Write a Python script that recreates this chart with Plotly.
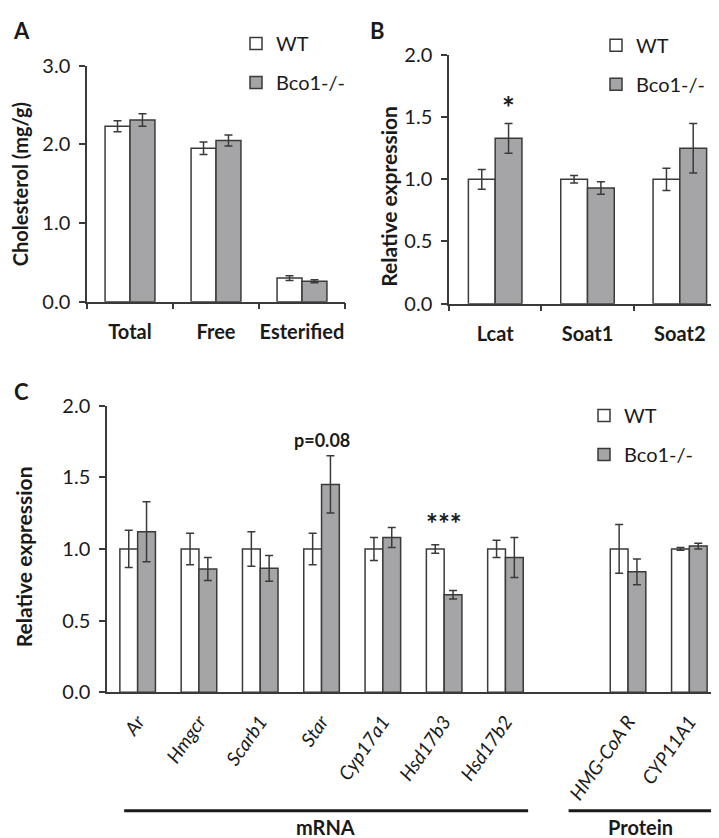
import plotly.graph_objects as go

# panel A - cholesterol content
a_cats = ["Total", "Free", "Esterified"]
a_wt = [2.23, 1.95, 0.30]
a_wt_err = [0.07, 0.08, 0.03]
a_ko = [2.31, 2.05, 0.26]
a_ko_err = [0.08, 0.07, 0.02]

# panel B - esterification genes
b_cats = ["Lcat", "Soat1", "Soat2"]
b_wt = [1.0, 1.0, 1.0]
b_wt_err = [0.08, 0.03, 0.09]
b_ko = [1.33, 0.93, 1.25]
b_ko_err = [0.12, 0.05, 0.20]

# panel C - steroidogenic genes / proteins
c_labels = ["Ar", "Hmgcr", "Scarb1", "Star", "Cyp17a1", "Hsd17b3", "Hsd17b2",
            "HMG-CoA R", "CYP11A1"]
c_group = ["mRNA"] * 7 + ["Protein"] * 2
c_wt = [1.0, 1.0, 1.0, 1.0, 1.0, 1.0, 1.0, 1.0, 1.0]
c_wt_err = [0.13, 0.11, 0.12, 0.11, 0.08, 0.03, 0.06, 0.17, 0.01]
c_ko = [1.12, 0.86, 0.865, 1.45, 1.08, 0.68, 0.94, 0.84, 1.02]
c_ko_err = [0.21, 0.08, 0.09, 0.20, 0.07, 0.03, 0.14, 0.09, 0.02]

W, H = 719, 838
FONT = "Lato"
INK = "#1a1a1a"
LINE = "#3a3a3a"
GREY = "#a5a5a8"

# leave an empty slot between the mRNA and protein groups
c_x = [i + (1 if g == "Protein" else 0) for i, g in enumerate(c_group)]


def px(x0, x1):
    return [x0 / W, x1 / W]


def py(top, bottom):
    return [1 - bottom / H, 1 - top / H]


fig = go.Figure()

err_style = dict(type="data", visible=True, color=LINE, thickness=1.5, width=4)
panels = [
    ("x", "y", "legend", a_cats, a_wt, a_wt_err, a_ko, a_ko_err),
    ("x2", "y2", "legend2", b_cats, b_wt, b_wt_err, b_ko, b_ko_err),
    ("x3", "y3", "legend3", c_x, c_wt, c_wt_err, c_ko, c_ko_err),
]
for xa, ya, lg, xs, wt, wte, ko, koe in panels:
    fig.add_trace(go.Bar(
        x=xs, y=wt, name="WT", xaxis=xa, yaxis=ya, legend=lg, legendgroup=lg + "wt",
        marker=dict(color="white", line=dict(color=LINE, width=1.5)),
        error_y=dict(array=wte, **err_style)))
    fig.add_trace(go.Bar(
        x=xs, y=ko, name="Bco1-/-", xaxis=xa, yaxis=ya, legend=lg, legendgroup=lg + "ko",
        marker=dict(color=GREY, line=dict(color=LINE, width=1.5)),
        error_y=dict(array=koe, **err_style)))

yax = dict(showline=True, linecolor=LINE, linewidth=1.5, ticks="outside", ticklen=6,
           tickwidth=1.5, tickcolor=LINE, showgrid=False, zeroline=False,
           tickformat=".1f", tickfont=dict(family=FONT, size=20, color=INK),
           ticklabelstandoff=5)
xcat = dict(showline=True, linecolor=LINE, linewidth=1.5, ticks="outside", ticklen=6,
            tickwidth=1.5, tickcolor=LINE, tickson="boundaries", showgrid=False,
            tickangle=0, tickfont=dict(family=FONT, size=20, color=INK, weight="bold"),
            ticklabelstandoff=12)

fig.update_layout(
    width=W, height=H, margin=dict(l=0, r=0, t=0, b=0),
    paper_bgcolor="white", plot_bgcolor="white",
    barmode="group", bargap=0.42, bargroupgap=0,
    font=dict(family=FONT, color=INK),
    xaxis=dict(domain=px(79, 337), anchor="y", **xcat),
    yaxis=dict(domain=py(46, 289), anchor="x", range=[0, 3], dtick=1, **yax),
    xaxis2=dict(domain=px(441, 718), anchor="y2", **xcat),
    yaxis2=dict(domain=py(35, 291), anchor="x2", range=[0, 2], dtick=0.5, **yax),
    xaxis3=dict(domain=px(99, 712), anchor="y3", range=[-0.5, 9.5], showline=True,
                linecolor=LINE, linewidth=1.5, ticks="", showgrid=False, zeroline=False,
                tickmode="array", tickvals=c_x, ticktext=c_labels, tickangle=-55,
                ticklabelstandoff=9,
                tickfont=dict(family=FONT, size=19, color=INK, style="italic")),
    yaxis3=dict(domain=py(396, 691), anchor="x3", range=[0, 2], dtick=0.5, **yax),
)

leg = dict(xanchor="left", yanchor="top", bgcolor="rgba(0,0,0,0)",
           font=dict(family=FONT, size=20, color=INK), tracegroupgap=10,
           itemclick=False)
fig.update_layout(
    legend=dict(x=228 / W, y=1 - 3 / H, **leg),
    legend2=dict(x=588 / W, y=1 - 5 / H, **leg),
    legend3=dict(x=576 / W, y=1 - 386 / H, **leg),
)

notes = [
    dict(text="<b>A</b>", x=13 / W, y=1 - 10 / H, xref="paper", yref="paper", font_size=22),
    dict(text="<b>B</b>", x=369 / W, y=1 - 10 / H, xref="paper", yref="paper", font_size=22),
    dict(text="<b>C</b>", x=13 / W, y=1 - 381 / H, xref="paper", yref="paper", font_size=22),
    dict(text="<b>Cholesterol (mg/g)</b>", x=12 / W, y=1 - 168 / H, xref="paper",
         yref="paper", textangle=-90, font_size=20),
    dict(text="<b>Relative expression</b>", x=381 / W, y=1 - 181 / H, xref="paper",
         yref="paper", textangle=-90, font_size=21),
    dict(text="<b>Relative expression</b>", x=15 / W, y=1 - 552 / H, xref="paper",
         yref="paper", textangle=-90, font_size=21),
    dict(text="<b>*</b>", x="Lcat", y=1.58, xref="x2", yref="y2", xshift=13, font_size=30),
    dict(text="<b>p=0.08</b>", x=c_x[3], y=1.76, xref="x3", yref="y3", font_size=18),
    dict(text="<b>***</b>", x=c_x[5], y=1.18, xref="x3", yref="y3", font_size=28),
    dict(text="<b>mRNA</b>", x=(c_x[0] + c_x[6]) / 2 + 0.07, y=1 - 830 / H, xref="x3",
         yref="paper", font_size=20),
    dict(text="<b>Protein</b>", x=(c_x[7] + c_x[8]) / 2 - 0.29, y=1 - 830 / H, xref="x3",
         yref="paper", font_size=20),
]
for n in notes:
    fig.add_annotation(showarrow=False, xanchor="center", yanchor="middle",
                       font_family=FONT, font_color=INK, **n)

# bracket lines under the gene labels
for x0, x1 in [(c_x[0] - 0.22, c_x[6] + 0.37), (c_x[7] - 0.97, c_x[8] + 0.44)]:
    fig.add_shape(type="line", xref="x3", yref="paper", x0=x0, x1=x1,
                  y0=1 - 813 / H, y1=1 - 813 / H, line=dict(color=INK, width=3))

fig.write_html("out.html")
